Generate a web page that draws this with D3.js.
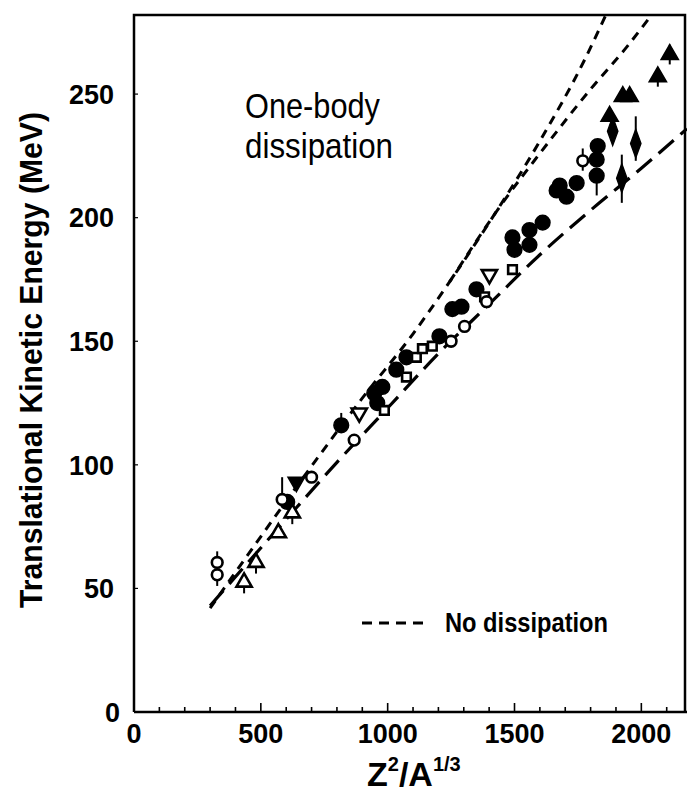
<!DOCTYPE html>
<html>
<head>
<meta charset="utf-8">
<script src="https://cdn.jsdelivr.net/npm/d3@7"></script>
<style>
  body { margin: 0; background: #fff; }
  text { font-family: "Liberation Sans", Arial, sans-serif; fill: #000; }
</style>
</head>
<body>
<div id="chart"></div>
<script>
// theory curves, [Z^2/A^1/3, TKE in MeV]
const noDissA = [[300,42],[500,71],[718,102],[900,127],[1100,153],[1244,174],[1400,198],[1600,231],[1777,264],[1860,282]];
const noDissB = [[1244,174],[1460,207],[1600,226],[1800,252],[1942,269],[2040,282]];
const oneBody = [[300,43],[600,78],[800,101],[1000,123],[1200,145],[1400,165],[1600,185],[1800,203],[2000,220],[2180,236]];

// measured points, [x, y, errLow, errHigh]
const openCircles = [[328,60.5,60.5,65],[328,55.5,51,55.5],[584,86,86,95],[700,95],[868,110],[1250,150],[1303,156],[1390,166],[1769,223,219,228]];
const openTriangles = [[434,52.5,48,52.5],[481,60.5,56,60.5],[569,72.5],[624,80.5,76,80.5]];
const openInvTriangles = [[888,121],[1401,177]];
const openSquares = [[987,122],[1074,135.5],[1113,143.5],[1137,147],[1176,148],[1382,168],[1492,179]];
const filledCircles = [[604,85],[817,116,116,121],[947,129],[959,125],[979,131.5],[1034,138.5],[1074,143.5],[1204,152],[1255,163],[1291,164],[1350,171],[1492,192],[1500,187],[1559,195],[1559,189],[1611,198],[1666,211],[1678,213],[1705,208.5],[1745,214],[1824,223.5],[1828,229],[1824,217,209,217]];
const filledInvTriangles = [[640,93]];
const filledTriangles = [[1875,241],[1927,249],[1954,249],[2065,257,253,257],[2112,266,262,270]];
const filledDiamonds = [[1887,235],[1923,216,206,225.5],[1978,230,223,241]];

const xTicks = [0,500,1000,1500,2000];
const xMinor = d3.range(100, 2200, 100);
const yTicks = [0,50,100,150,200,250];

const W = 687, H = 794;
const svg = d3.select("#chart").append("svg")
  .attr("width", W).attr("height", H);

const x = d3.scaleLinear().domain([0, 2180]).range([134, 687]);
const y = d3.scaleLinear().domain([0, 282]).range([712, 15]);

svg.append("clipPath").attr("id", "plot")
  .append("rect").attr("x", 134).attr("y", 15).attr("width", 553).attr("height", 697);

// frame
svg.append("path")
  .attr("d", `M${x(0)},${y(0)} V${y(282)} H685 V${y(0)} M${x(0)},${y(0)} H687`)
  .attr("fill", "none").attr("stroke", "#000").attr("stroke-width", 2.5);

// x ticks (inward)
svg.append("g").selectAll("line").data(xMinor).enter().append("line")
  .attr("x1", d => x(d)).attr("x2", d => x(d))
  .attr("y1", y(0)).attr("y2", d => y(0) - (d % 500 === 0 ? 9 : 5))
  .attr("stroke", "#000").attr("stroke-width", 1.6);
svg.append("g").selectAll("line").data(yTicks.slice(1)).enter().append("line")
  .attr("x1", x(0)).attr("x2", x(0) + 4)
  .attr("y1", d => y(d)).attr("y2", d => y(d))
  .attr("stroke", "#000").attr("stroke-width", 1.2);

// tick labels
svg.append("g").selectAll("text").data(xTicks).enter().append("text")
  .attr("x", d => x(d)).attr("y", 743)
  .attr("text-anchor", "middle").attr("font-size", 27).attr("font-weight", "bold")
  .text(d => d);
svg.append("g").selectAll("text").data(yTicks).enter().append("text")
  .attr("x", d => d === 0 ? 120 : 114).attr("y", d => y(d)).attr("dy", "0.36em")
  .attr("text-anchor", "end").attr("font-size", 27).attr("font-weight", "bold")
  .text(d => d);

// axis titles
const xt = svg.append("text").attr("x", 367).attr("y", 786)
  .attr("font-size", 34).attr("font-weight", "bold");
xt.append("tspan").text("Z");
xt.append("tspan").attr("font-size", 20).attr("dy", -15).text("2");
xt.append("tspan").attr("dy", 15).text("/A");
xt.append("tspan").attr("font-size", 20).attr("dy", -15).text("1/3");

svg.append("text")
  .attr("transform", "translate(42,360) rotate(-90)")
  .attr("text-anchor", "middle").attr("font-size", 31).attr("font-weight", "bold")
  .attr("textLength", 496).attr("lengthAdjust", "spacingAndGlyphs")
  .text("Translational Kinetic Energy  (MeV)");

// annotation
svg.append("text").attr("x", 245).attr("y", 118).attr("font-size", 35)
  .attr("textLength", 135).attr("lengthAdjust", "spacingAndGlyphs").text("One-body");
svg.append("text").attr("x", 245).attr("y", 158).attr("font-size", 35)
  .attr("textLength", 148).attr("lengthAdjust", "spacingAndGlyphs").text("dissipation");

// legend
svg.append("line").attr("x1", 362).attr("x2", 423).attr("y1", 623).attr("y2", 623)
  .attr("stroke", "#000").attr("stroke-width", 3).attr("stroke-dasharray", "10,7");
svg.append("text").attr("x", 445).attr("y", 632).attr("font-size", 28).attr("font-weight", "bold")
  .attr("textLength", 163).attr("lengthAdjust", "spacingAndGlyphs").text("No dissipation");

// curves
const line = d3.line().x(d => x(d[0])).y(d => y(d[1])).curve(d3.curveMonotoneX);
const curves = svg.append("g").attr("clip-path", "url(#plot)");
curves.append("path").datum(noDissA).attr("d", line).attr("fill", "none")
  .attr("stroke", "#000").attr("stroke-width", 3).attr("stroke-dasharray", "9,7");
curves.append("path").datum(noDissB).attr("d", line).attr("fill", "none")
  .attr("stroke", "#000").attr("stroke-width", 3).attr("stroke-dasharray", "9,7");
curves.append("path").datum(oneBody).attr("d", line).attr("fill", "none")
  .attr("stroke", "#000").attr("stroke-width", 3.2).attr("stroke-dasharray", "20,9");

// points
const pts = svg.append("g");
function errBars(data) {
  pts.append("g").selectAll("line").data(data.filter(d => d.length > 2)).enter().append("line")
    .attr("x1", d => x(d[0])).attr("x2", d => x(d[0]))
    .attr("y1", d => y(d[2])).attr("y2", d => y(d[3]))
    .attr("stroke", "#000").attr("stroke-width", 2);
}
function marks(data, type, size, filled, sx, sy, rot) {
  errBars(data);
  pts.append("g").selectAll("path").data(data).enter().append("path")
    .attr("d", d3.symbol().type(type).size(size))
    .attr("transform", d => `translate(${x(d[0])},${y(d[1])}) rotate(${rot || 0}) scale(${sx || 1},${sy || 1})`)
    .attr("fill", filled ? "#000" : "#fff")
    .attr("stroke", "#000").attr("stroke-width", filled ? 1.5 : 2.6);
}
marks(filledCircles, d3.symbolCircle, 170, true);
marks(filledDiamonds, d3.symbolDiamond, 130, true, 0.85, 1.35);
marks(filledTriangles, d3.symbolTriangle, 130, true);
marks(filledInvTriangles, d3.symbolTriangle, 120, true, 1, 1, 180);
marks(openSquares, d3.symbolSquare, 75, false);
marks(openCircles, d3.symbolCircle, 90, false);
marks(openTriangles, d3.symbolTriangle, 100, false);
marks(openInvTriangles, d3.symbolTriangle, 100, false, 1, 1, 180);
</script>
</body>
</html>
